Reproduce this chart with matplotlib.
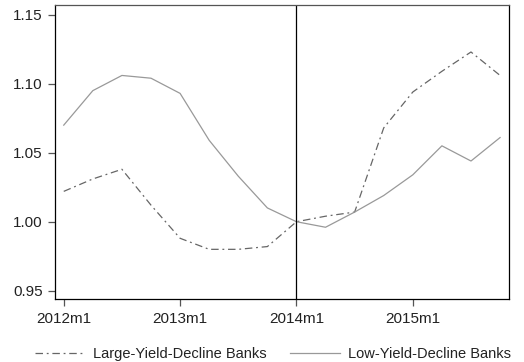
import matplotlib
matplotlib.use("Agg")
import matplotlib.pyplot as plt

plt.rcParams['font.family'] = ['Liberation Sans', 'DejaVu Sans']

# months since 2012m1, quarterly observations
months = [0, 3, 6, 9, 12, 15, 18, 21, 24, 27, 30, 33, 36, 39, 42, 45]
large_decline = [1.022, 1.031, 1.038, 1.012, 0.988, 0.980, 0.980, 0.982,
                 1.000, 1.004, 1.007, 1.068, 1.094, 1.109, 1.123, 1.106]
low_decline = [1.070, 1.095, 1.106, 1.104, 1.093, 1.059, 1.033, 1.010,
               1.000, 0.996, 1.007, 1.019, 1.034, 1.055, 1.044, 1.061]
xtick_pos = [0, 12, 24, 36]
xtick_labels = ['2012m1', '2013m1', '2014m1', '2015m1']
yticks = [0.95, 1.00, 1.05, 1.10, 1.15]

fig = plt.figure(figsize=(5.24, 3.62), dpi=100)
ax = fig.add_axes([0.105, 0.174, 0.866, 0.812])

ax.plot(months, large_decline, color='#666666', lw=0.9,
        dashes=(6, 3, 1.5, 3), label='Large-Yield-Decline Banks')
ax.plot(months, low_decline, color='#999999', lw=0.9,
        label='Low-Yield-Decline Banks')
ax.axvline(24, color='black', lw=0.9)

ax.set_xlim(-0.9, 45.9)
ax.set_ylim(0.944, 1.157)
ax.set_xticks(xtick_pos)
ax.set_xticklabels(xtick_labels)
ax.set_yticks(yticks)
ax.set_yticklabels(['%.2f' % v for v in yticks])
ax.tick_params(labelsize=11, length=5, width=0.9, color='#555555', pad=4,
               labelcolor='#222222')
for s in ax.spines.values():
    s.set_linewidth(0.9)
ax.spines['top'].set_color('#555555')

leg = fig.legend(loc='lower center', bbox_to_anchor=(0.521, -0.034), ncol=2,
                 frameon=False, fontsize=10.5, handlelength=3.4,
                 columnspacing=1.6, handletextpad=0.55)
for t in leg.get_texts():
    t.set_color('#222222')

fig.savefig('out.png', dpi=100)
